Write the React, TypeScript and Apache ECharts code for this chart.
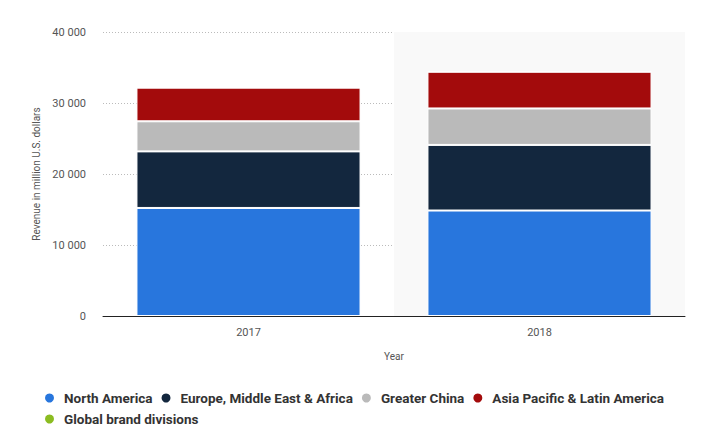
import React, { useEffect, useRef } from "react";
import * as echarts from "echarts";

const years = ["2017", "2018"];
const northAmerica = [15216, 14855];
const emea = [7970, 9242];
const greaterChina = [4237, 5134];
const apla = [4737, 5166];
const globalBrand = [73, 88];
const yTicks = { min: 0, max: 40000, interval: 10000 };

const seriesDefs = [
  { name: "North America", data: northAmerica, color: "#2876dd" },
  { name: "Europe, Middle East & Africa", data: emea, color: "#13273e" },
  { name: "Greater China", data: greaterChina, color: "#bababa" },
  { name: "Asia Pacific & Latin America", data: apla, color: "#a30b0c" },
  { name: "Global brand divisions", data: globalBrand, color: "#8bbc21" },
];

const FONT = "Roboto, 'Open Sans', sans-serif";

export default function App() {
  const ref = useRef<HTMLDivElement>(null);
  useEffect(() => {
    const chart = echarts.init(ref.current!, null, { renderer: "svg" });
    chart.setOption({
      animation: false,
      textStyle: { fontFamily: FONT },
      grid: { left: 103, right: 26, top: 32, bottom: 128 },
      legend: {
        left: 38,
        top: 386,
        width: 660,
        icon: "circle",
        itemWidth: 11,
        itemHeight: 11,
        itemGap: 7,
        textStyle: {
          fontFamily: FONT,
          fontSize: 13.5,
          lineHeight: 14,
          fontWeight: "bold",
          color: "#333",
          padding: [0, 0, 0, 4],
        },
        data: seriesDefs.map((s) => s.name),
      },
      xAxis: {
        type: "category",
        data: years,
        name: "Year",
        nameLocation: "middle",
        nameGap: 35,
        nameTextStyle: { color: "#555", fontSize: 10 },
        axisLine: { lineStyle: { color: "#222", width: 1 } },
        axisTick: { show: false },
        axisLabel: { color: "#555", fontSize: 11, margin: 11 },
        splitArea: { show: true, areaStyle: { color: ["rgba(0,0,0,0)", "#f9f9f9"] } },
      },
      yAxis: {
        type: "value",
        min: yTicks.min,
        max: yTicks.max,
        interval: yTicks.interval,
        name: "Revenue in million U.S. dollars",
        nameLocation: "middle",
        nameGap: 61,
        nameTextStyle: { color: "#555", fontSize: 10 },
        axisLine: { show: false },
        axisTick: { show: false },
        axisLabel: {
          color: "#555",
          fontSize: 11,
          margin: 17,
          formatter: (v: number) => String(v).replace(/\B(?=(\d{3})+(?!\d))/g, " "),
        },
        splitLine: { lineStyle: { color: "#bbb", type: [1, 2], width: 1 } },
      },
      series: seriesDefs.map((s) => ({
        name: s.name,
        type: "bar",
        stack: "total",
        data: s.data,
        barCategoryGap: "23%",
        itemStyle: { color: s.color, borderColor: "#fff", borderWidth: 1 },
      })),
    });
    return () => chart.dispose();
  }, []);
  return <div ref={ref} style={{ width: 711, height: 444, margin: -8 }} />;
}
